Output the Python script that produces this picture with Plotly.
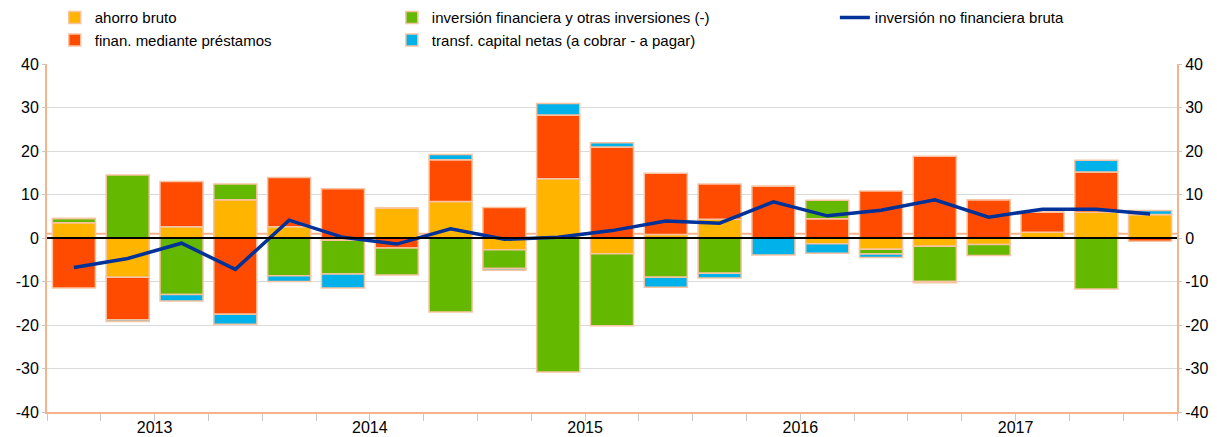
import plotly.graph_objects as go

quarters = ["2013Q1", "2013Q2", "2013Q3", "2013Q4",
            "2014Q1", "2014Q2", "2014Q3", "2014Q4",
            "2015Q1", "2015Q2", "2015Q3", "2015Q4",
            "2016Q1", "2016Q2", "2016Q3", "2016Q4",
            "2017Q1", "2017Q2", "2017Q3", "2017Q4",
            "2018Q1"]
years = ["2013", "2014", "2015", "2016", "2017"]
y_ticks = [-40, -30, -20, -10, 0, 10, 20, 30, 40]
y_ticktext = ["-40", "-30", "-20", "-10", "0", "10", "20", "30", "40"]

ahorro = [3.5, -9.0, 2.6, 8.8, 2.6, -0.5, 6.9, 8.4, -2.7, 13.6, -3.6,
          0.8, 4.3, 0.0, -1.3, -2.6, -1.9, -1.5, 1.3, 5.9, 5.4]
finan = [-11.5, -9.8, 10.4, -17.5, 11.3, 11.3, -2.3, 9.6, 7.0, 14.7, 20.9,
         14.1, 8.1, 11.9, 4.4, 10.8, 18.8, 8.8, 4.6, 9.3, -0.75]
inversion = [1.0, 14.5, -13.0, 3.6, -8.7, -7.8, -6.2, -17.0, -4.3, -30.8, -16.6,
             -9.0, -8.1, 0.0, 4.3, -1.1, -8.1, -2.5, 0.0, -11.7, 0.0]
transf = [0.0, -0.4, -1.5, -2.3, -1.3, -3.2, 0.0, 1.2, -0.4, 2.6, 1.0,
          -2.3, -1.1, -3.9, -2.2, -0.8, -0.3, 0.0, 0.0, 2.7, 0.9]
inv_no_fin = [-6.8, -4.7, -1.2, -7.2, 4.1, 0.15, -1.4, 2.1, -0.3, 0.2, 1.7,
              3.9, 3.4, 8.3, 5.1, 6.4, 8.8, 4.8, 6.6, 6.6, 5.5]

names = ["ahorro bruto", "finan. mediante préstamos",
         "inversión financiera y otras inversiones (-)",
         "transf. capital netas (a cobrar - a pagar)",
         "inversión no financiera bruta"]
colors = ["#FFB400", "#FF4B00", "#65B800", "#00B1EA", "#003299"]
outline = "#F7C3A0"
axis_orange = "#F7B48C"

x = [i + 0.5 for i in range(len(quarters))]
year_pos = [4 * i + 2 for i in range(len(years))]

fig = go.Figure()
series = [ahorro, finan, inversion, transf]
legends = ["legend", "legend", "legend2", "legend2"]
for s, n, c, lg in zip(series, names[:4], colors[:4], legends):
    fig.add_trace(go.Bar(x=x, y=s, name=n, marker=dict(color=c, line=dict(color=outline, width=1.5)),
                         width=0.8, legend=lg, customdata=quarters,
                         hovertemplate="%{customdata}: %{y}<extra>" + n + "</extra>"))

fig.add_trace(go.Scatter(x=x, y=inv_no_fin, name=names[4], mode="lines",
                         line=dict(color=colors[4], width=3.5), legend="legend3",
                         customdata=quarters, yaxis="y2",
                         hovertemplate="%{customdata}: %{y}<extra></extra>"))

font = "Liberation Sans, Arial, sans-serif"

fig.update_layout(
    width=1217, height=437,
    margin=dict(l=47, r=40, t=64, b=25, autoexpand=False),
    barmode="relative",
    bargap=0.2,
    plot_bgcolor="white", paper_bgcolor="white",
    font=dict(family=font, size=16, color="#000"),
    xaxis=dict(range=[0, len(quarters)], tickmode="array", tickvals=year_pos, ticktext=years,
               ticks="", showgrid=False, zeroline=False,
               showline=True, linecolor=axis_orange, linewidth=2,
               ticklabelstandoff=0,
               minor=dict(tickmode="array", tickvals=list(range(len(quarters) + 1)),
                          ticks="outside", ticklen=7, tickcolor="#C8C8C8", tickwidth=1,
                          showgrid=False),
               tickfont=dict(size=16)),
    yaxis=dict(range=[-40, 40], tickmode="array", tickvals=y_ticks, ticktext=y_ticktext,
               showgrid=True, gridcolor="#DADADA", gridwidth=1,
               zeroline=False, showline=True, linecolor=axis_orange, linewidth=2,
               ticks="outside", ticklen=3, tickcolor="#C8C8C8", tickfont=dict(size=16)),
    yaxis2=dict(range=[-40, 40], tickmode="array", tickvals=y_ticks, ticktext=y_ticktext,
                overlaying="y", side="right", showgrid=False,
                zeroline=False, showline=True, linecolor=axis_orange, linewidth=2,
                ticks="outside", ticklen=3, tickcolor="#C8C8C8", tickfont=dict(size=16)),
    legend=dict(x=0.045, y=0.997, xref="container", yref="container", xanchor="left", yanchor="top",
                font=dict(size=15, family=font), bgcolor="rgba(0,0,0,0)", tracegroupgap=0),
    legend2=dict(x=0.322, y=0.997, xref="container", yref="container", xanchor="left", yanchor="top",
                 font=dict(size=15, family=font), bgcolor="rgba(0,0,0,0)", tracegroupgap=0),
    legend3=dict(x=0.686, y=0.997, xref="container", yref="container", xanchor="left", yanchor="top",
                 font=dict(size=15, family=font), bgcolor="rgba(0,0,0,0)"),
    showlegend=True,
)

fig.add_shape(type="line", xref="paper", x0=0, x1=1, yref="y", y0=1, y1=1,
              line=dict(color=axis_orange, width=2), layer="below")
fig.add_shape(type="line", xref="paper", x0=0, x1=1, yref="y", y0=0, y1=0,
              line=dict(color="#000", width=2), layer="above")

fig.write_html("out.html", config={"displayModeBar": False},
               post_script="document.body.style.margin='0px';")
